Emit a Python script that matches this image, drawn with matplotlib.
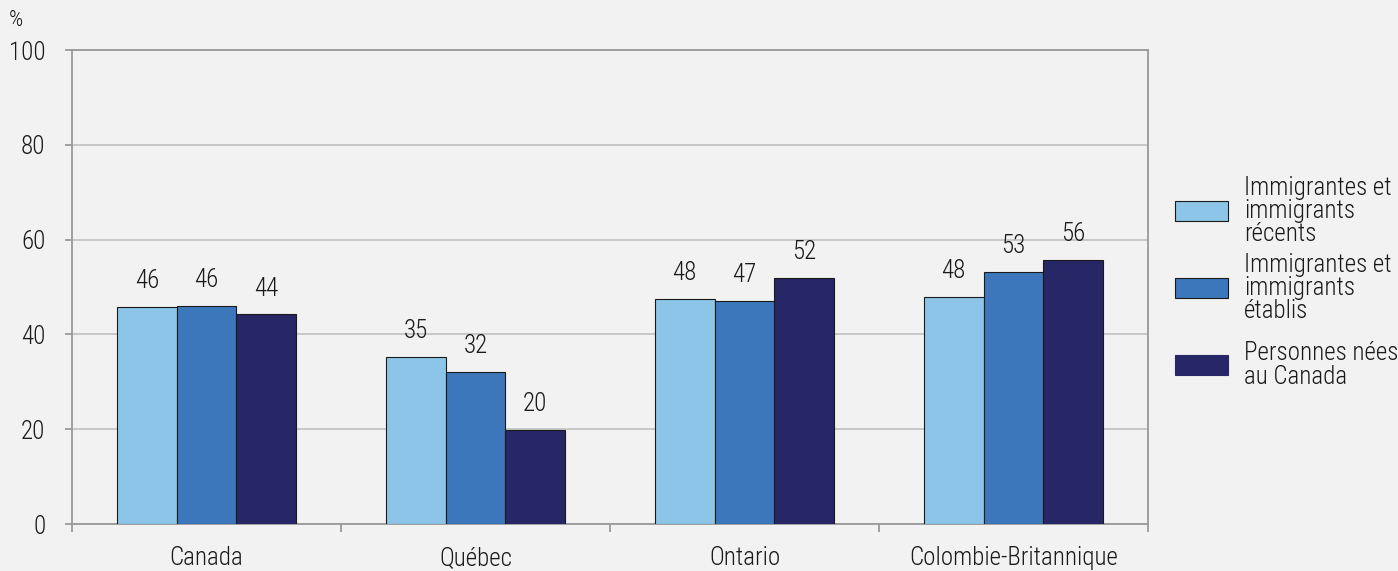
import numpy as np
import matplotlib.pyplot as plt
from matplotlib.patches import Rectangle

plt.rcParams['font.family'] = ['Roboto Condensed', 'Archivo Narrow',
                               'Barlow Condensed', 'DejaVu Sans']

# Data
regions = ['Canada', 'Québec', 'Ontario', 'Colombie-Britannique']
series = ['Immigrantes et\nimmigrants\nrécents',
          'Immigrantes et\nimmigrants\nétablis',
          'Personnes nées\nau Canada']
recent = [45.7, 35.2, 47.5, 47.8]
established = [46.0, 32.0, 47.0, 53.2]
born_canada = [44.2, 19.8, 52.0, 55.6]
labels = [[46, 35, 48, 48], [46, 32, 47, 53], [44, 20, 52, 56]]
colors = ['#8cc5e7', '#3c77bc', '#272667']

bg = '#f2f2f2'
txt = '#1a1a1a'
fs = 18
W, H = 1398, 571
fig = plt.figure(figsize=(W / 100, H / 100), dpi=100, facecolor=bg)
ax = fig.add_axes([72 / W, 1 - 524 / H, (1148 - 72) / W, (524 - 50) / H])
ax.set_facecolor(bg)

x = np.arange(len(regions))
w = 0.222
for i, vals in enumerate([recent, established, born_canada]):
    pos = x + (i - 1) * w
    ax.bar(pos, vals, w, color=colors[i], edgecolor='#1a1a1a', linewidth=0.8,
           zorder=3)
    for p, v, t in zip(pos, vals, labels[i]):
        ax.text(p, v + 4, str(t), ha='center', va='baseline', fontsize=fs,
                color=txt, fontweight='light')

ax.set_xlim(-0.5, 3.5)
ax.set_ylim(0, 100)
ax.set_yticks([0, 20, 40, 60, 80, 100])
ax.yaxis.grid(True, color='#c0c0c0', linewidth=1.2, zorder=0)
ax.set_axisbelow(True)
for s in ax.spines.values():
    s.set_color('#999999')
    s.set_linewidth(1.3)

ax.set_xticks(x)
ax.set_xticklabels(regions, fontsize=fs, color=txt, fontweight='light')
ax.tick_params(axis='x', length=0, pad=16)
ax.set_xticks([-0.5, 0.5, 1.5, 2.5, 3.5], minor=True)
ax.tick_params(axis='x', which='minor', length=6, color='#999999', width=1.3)
ax.tick_params(axis='y', labelcolor=txt, length=5, color='#999999',
               width=1.3, pad=14)
for lab in ax.get_yticklabels():
    lab.set_fontsize(fs)
    lab.set_fontweight('light')

fig.text(9 / W, 1 - 21 / H, '%', fontsize=16, color=txt, va='center',
         fontweight='light')

# Legend drawn by hand at its spot on the right
centers = [211, 288, 365]
for c, lab, y in zip(colors, series, centers):
    fig.patches.append(Rectangle((1175 / W, 1 - (y + 10) / H), 53 / W, 20 / H,
                                 transform=fig.transFigure, facecolor=c,
                                 edgecolor='#1a1a1a' if c != colors[2] else c,
                                 linewidth=0.8))
    fig.text(1244 / W, 1 - y / H, lab, fontsize=fs, color=txt, va='center',
             linespacing=0.95, fontweight='light')

plt.savefig('out.png', dpi=100, facecolor=bg)
